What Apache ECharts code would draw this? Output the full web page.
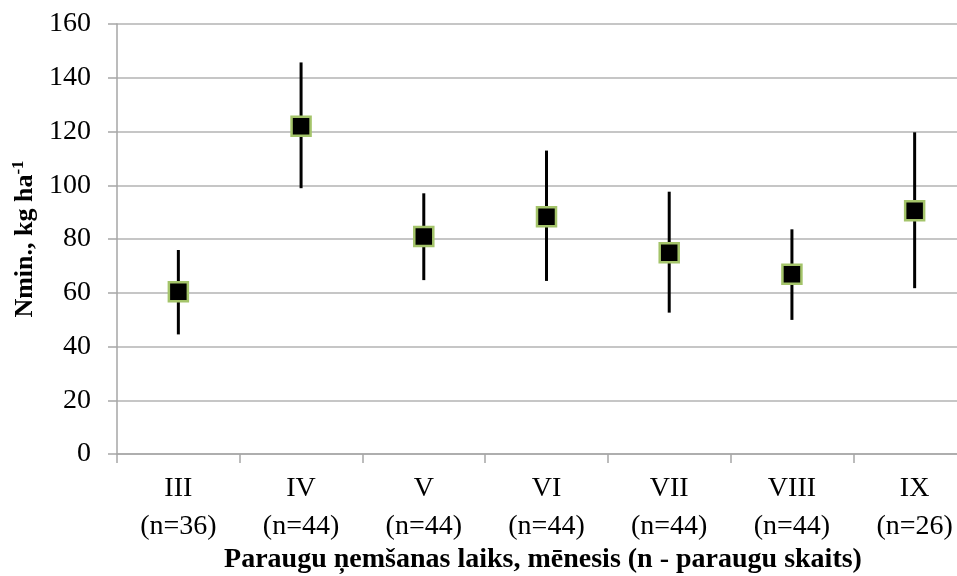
<!DOCTYPE html>
<html>
<head>
<meta charset="utf-8">
<script src="https://cdn.jsdelivr.net/npm/echarts@6/dist/echarts.min.js"></script>
<style>html,body{margin:0;padding:0;background:#fff;}#chart{width:957px;height:576px;}</style>
</head>
<body>
<div id="chart"></div>
<script>
var months = ['III', 'IV', 'V', 'VI', 'VII', 'VIII', 'IX'];
var sampleCounts = [36, 44, 44, 44, 44, 44, 26];
var means = [60.4, 122.0, 80.9, 88.3, 74.9, 66.9, 90.5];
var lows = [44.5, 98.9, 64.7, 64.4, 52.6, 49.9, 61.7];
var highs = [75.9, 145.7, 97.0, 112.9, 97.6, 83.6, 119.7];
var yTicks = [0, 20, 40, 60, 80, 100, 120, 140, 160];

var categories = months.map(function (m, i) { return m + '\n(n=' + sampleCounts[i] + ')'; });
var errData = months.map(function (m, i) { return [i, lows[i], highs[i]]; });
var FONT = '"Liberation Serif", "Times New Roman", serif';

var chart = echarts.init(document.getElementById('chart'));
chart.setOption({
  animation: false,
  backgroundColor: '#fff',
  grid: { left: 117, top: 24, width: 859, height: 430, containLabel: false, outerBoundsMode: 'none' },
  xAxis: {
    type: 'category',
    data: categories,
    boundaryGap: true,
    axisLine: { lineStyle: { color: '#a6a6a6', width: 1.5 } },
    axisTick: { show: true, length: 9, alignWithLabel: false, lineStyle: { color: '#a6a6a6', width: 1.5 } },
    axisLabel: { color: '#000', fontFamily: FONT, fontSize: 28, lineHeight: 38, margin: 16, interval: 0 },
    splitLine: { show: false }
  },
  yAxis: {
    type: 'value',
    min: yTicks[0],
    max: yTicks[yTicks.length - 1],
    interval: 20,
    axisLine: { show: true, lineStyle: { color: '#a6a6a6', width: 1.5 } },
    axisTick: { show: true, length: 9, lineStyle: { color: '#a6a6a6', width: 1.5 } },
    axisLabel: { color: '#000', fontFamily: FONT, fontSize: 28, margin: 26 },
    splitLine: { show: true, lineStyle: { color: '#b3b3b3', width: 1.5 } },
    name: 'Nmin., kg ha{sup|-1}',
    nameLocation: 'middle',
    nameGap: 74,
    nameRotate: 90,
    nameTextStyle: {
      color: '#000', fontFamily: FONT, fontSize: 26, fontWeight: 'bold',
      rich: {
        sup: { color: '#000', fontFamily: FONT, fontSize: 17, fontWeight: 'bold', padding: [0, 0, 12, 0] }
      }
    }
  },
  graphic: [{
    type: 'text',
    x: 543,
    y: 560,
    style: {
      text: 'Paraugu ņemšanas laiks, mēnesis (n - paraugu skaits)',
      fontFamily: FONT, fontSize: 28, fontWeight: 'bold', fill: '#000',
      align: 'center', verticalAlign: 'middle'
    }
  }],
  series: [{
    type: 'custom',
    z: 2,
    data: errData,
    renderItem: function (params, api) {
      var x = api.value(0);
      var lo = api.coord([x, api.value(1)]);
      var hi = api.coord([x, api.value(2)]);
      return {
        type: 'line',
        shape: { x1: lo[0], y1: lo[1], x2: hi[0], y2: hi[1] },
        style: { stroke: '#000', lineWidth: 3 }
      };
    }
  }, {
    type: 'scatter',
    z: 3,
    data: means,
    symbol: 'rect',
    symbolSize: 19,
    itemStyle: { color: '#000', borderColor: '#a4c46a', borderWidth: 2.5, opacity: 1 }
  }]
});
</script>
</body>
</html>
